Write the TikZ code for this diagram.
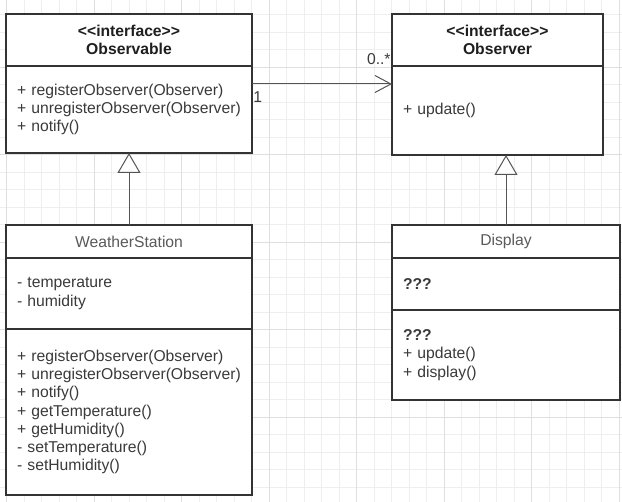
\documentclass[tikz,border=0pt]{standalone}
\usepackage{fontspec}
\setmainfont{Liberation Sans}
\usepackage{xcolor}
\usetikzlibrary{arrows.meta,positioning}
\definecolor{gridminor}{HTML}{EEEEEE}
\definecolor{gridmajor}{HTML}{DFDFDF}
\definecolor{boxline}{HTML}{333333}
\definecolor{membertext}{HTML}{3A3A3A}
\definecolor{nametext}{HTML}{5A5A5A}
\definecolor{conn}{HTML}{555555}

\begin{document}
\begin{tikzpicture}[x=1pt,y=-1pt,thick,font=\fontsize{15.7}{18.3}\selectfont,
                    class part/.style={draw=boxline,line width=1.6pt,fill=white,outer sep=0pt,
                                       inner xsep=11pt,inner ysep=2pt,align=left,text=membertext},
                    class head/.style={class part,align=center,text=nametext},
                    iface/.style={class head,text=black!88},
                    inherit/.style={draw=conn,line width=1pt,-{Triangle[open,length=20pt,width=23pt,fill=white]}},
                    assoc/.style={draw=conn,line width=1pt,-{Straight Barb[length=16pt,width=17pt]}},
                    mult/.style={inner sep=0pt,text=membertext}]

  % background grid
  \useasboundingbox (0,0) rectangle (622,502);
  \fill[white] (0,0) rectangle (622,502);
  \foreach \k in {0,...,35}
    \draw[gridminor,line width=1pt] (6.8+17.5*\k,0) -- (6.8+17.5*\k,502);
  \foreach \k in {0,...,27}
    \draw[gridminor,line width=1pt] (0,14.8+17.5*\k) -- (622,14.8+17.5*\k);
  \foreach \k in {0,5,...,35}
    \draw[gridmajor,line width=1pt] (6.8+17.5*\k,0) -- (6.8+17.5*\k,502);
  \foreach \k in {3,8,...,27}
    \draw[gridmajor,line width=1pt] (0,14.8+17.5*\k) -- (622,14.8+17.5*\k);

  % Observable
  \node[iface,text width=224pt,minimum height=52pt,anchor=north west] (obsH) at (6,14)
    {\textbf{<\kern0pt<interface>\kern0pt>}\\\textbf{Observable}};
  \node[class part,text width=224pt,minimum height=87pt,below=0pt of obsH] (obsM)
    {+ registerObserver(Observer)\\+ unregisterObserver(Observer)\\+ notify()};

  % Observer
  \node[iface,text width=189pt,minimum height=52pt,anchor=north west] (oberH) at (392,14)
    {\textbf{<\kern0pt<interface>\kern0pt>}\\\textbf{Observer}};
  \node[class part,text width=189pt,minimum height=89pt,below=0pt of oberH] (oberM)
    {+ update()};

  % WeatherStation
  \node[class head,text width=224pt,minimum height=33pt,anchor=north west] (wsH) at (6,225)
    {WeatherStation};
  \node[class part,text width=224pt,minimum height=71pt,below=0pt of wsH] (wsA)
    {- temperature\\- humidity};
  \node[class part,text width=224pt,minimum height=166pt,below=0pt of wsA] (wsM)
    {+ registerObserver(Observer)\\+ unregisterObserver(Observer)\\+ notify()\\
     + getTemperature()\\+ getHumidity()\\- setTemperature()\\- setHumidity()};

  % Display
  \node[class head,text width=206pt,minimum height=33pt,anchor=north west] (dispH) at (392,225)
    {Display};
  \node[class part,text width=206pt,minimum height=52pt,below=0pt of dispH] (dispA)
    {\textbf{???}};
  \node[class part,text width=206pt,minimum height=90pt,below=0pt of dispA] (dispM)
    {\textbf{???}\\+ update()\\+ display()};

  \coordinate (assocA) at ([yshift=-18pt]obsM.north east);
  \coordinate (assocB) at ([yshift=-18pt]oberM.north west);

  \path (wsH.north) edge[inherit] (obsM.south)
        (dispH.north) edge[inherit] (dispH.north |- oberM.south)
        (assocA) edge[assoc] (assocB);

  \node[mult,anchor=north west] (multA) at ([xshift=1pt,yshift=-7pt]assocA) {1};
  \node[mult,anchor=base east] (multB) at ([xshift=-1pt,yshift=19pt]assocB) {0..*};
\end{tikzpicture}
\end{document}
